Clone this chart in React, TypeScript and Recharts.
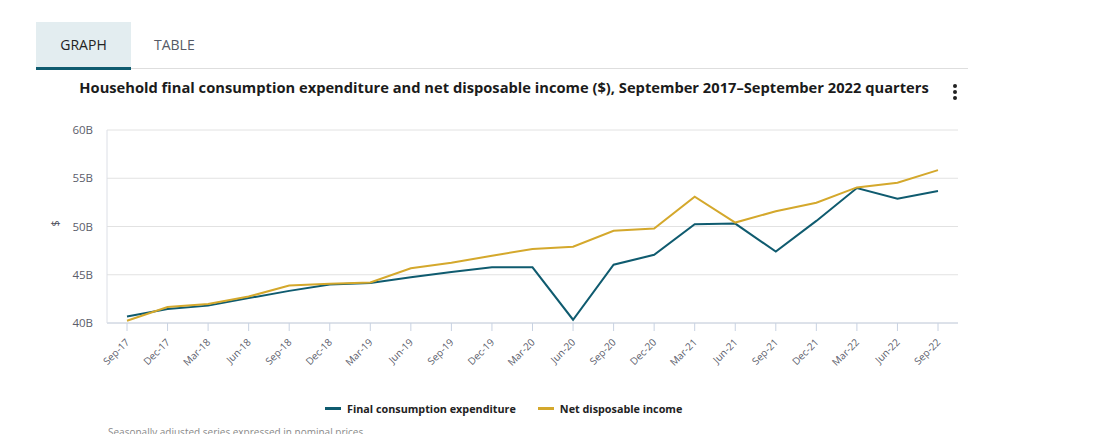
import { CartesianGrid, Line, LineChart, XAxis, YAxis } from "recharts";

const quarters = [
  "Sep-17", "Dec-17", "Mar-18", "Jun-18", "Sep-18", "Dec-18", "Mar-19",
  "Jun-19", "Sep-19", "Dec-19", "Mar-20", "Jun-20", "Sep-20", "Dec-20",
  "Mar-21", "Jun-21", "Sep-21", "Dec-21", "Mar-22", "Jun-22", "Sep-22",
];

// $ billions
const consumption = [
  40.68, 41.44, 41.8, 42.58, 43.33, 44.0, 44.15, 44.74, 45.29, 45.77, 45.77,
  40.34, 46.04, 47.07, 50.24, 50.3, 47.4, 50.58, 53.98, 52.88, 53.67,
];
const disposable = [
  40.24, 41.65, 41.96, 42.74, 43.88, 44.08, 44.19, 45.67, 46.25, 46.97, 47.66,
  47.9, 49.55, 49.79, 53.09, 50.41, 51.58, 52.47, 54.05, 54.54, 55.84,
];
const yTicks = [40, 45, 50, 55, 60];

const BLUE = "#0f5b6f";
const GOLD = "#d4a82c";
const FONT = "'Open Sans', sans-serif";

const data = quarters.map((q, i) => ({
  q,
  fce: consumption[i],
  ndi: disposable[i],
}));

function QuarterTick(props: any) {
  const { x, y, payload } = props;
  return (
    <text
      x={x + 3}
      y={y + 10}
      transform={`rotate(-45, ${x + 3}, ${y + 10})`}
      textAnchor="end"
      fontSize={10}
      fill="#5b5d6b"
      fontFamily={FONT}
    >
      {payload.value}
    </text>
  );
}

export default function App() {
  return (
    <div
      style={{
        position: "relative",
        margin: -8,
        width: 1096,
        height: 442,
        overflow: "hidden",
        background: "#fff",
        fontFamily: FONT,
      }}
    >
      {/* tabs */}
      <div style={{ position: "absolute", left: 36, top: 68, width: 932, height: 1, background: "#dedede" }} />
      <div
        style={{
          position: "absolute",
          left: 36,
          top: 22,
          width: 95,
          height: 45,
          background: "#e3edf0",
          borderBottom: "3px solid #0f5b6f",
        }}
      />
      <div style={{ position: "absolute", left: 36, top: 35, width: 95, textAlign: "center", fontSize: 14, color: "#222" }}>
        GRAPH
      </div>
      <div style={{ position: "absolute", left: 154, top: 35, fontSize: 14, color: "#555a66" }}>TABLE</div>

      {/* title */}
      <div
        style={{
          position: "absolute",
          left: 79,
          top: 77,
          width: 850,
          textAlign: "center",
          fontSize: 14.7,
          fontWeight: 700,
          color: "#1b1b1b",
          whiteSpace: "nowrap",
        }}
      >
        Household final consumption expenditure and net disposable income ($), September 2017–September 2022 quarters
      </div>
      <div style={{ position: "absolute", left: 953, top: 84 }}>
        {[0, 1, 2].map((i) => (
          <div key={i} style={{ width: 4, height: 4, borderRadius: 2, background: "#222", marginBottom: 2 }} />
        ))}
      </div>

      <div style={{ position: "absolute", left: 0, top: 0 }}>
        <LineChart
          width={1096}
          height={442}
          data={data}
          margin={{ top: 130, right: 138, bottom: 59, left: 47 }}
        >
          <CartesianGrid vertical={false} stroke="#e2e2e2" />
          <XAxis
            dataKey="q"
            interval={0}
            height={60}
            padding={{ left: 20, right: 20 }}
            tick={<QuarterTick />}
            tickSize={8}
            tickLine={{ stroke: "#c8d2e2" }}
            axisLine={{ stroke: "#c8d2e2" }}
          />
          <YAxis
            width={60}
            domain={[40, 60]}
            ticks={yTicks}
            tickFormatter={(v) => `${v}B`}
            tickLine={false}
            axisLine={{ stroke: "#dcdfe6" }}
            tick={{ fontSize: 11.5, fill: "#5b5d6b", fontFamily: FONT, dx: -6 }}
            label={{
              value: "$",
              angle: -90,
              position: "insideLeft",
              offset: 8,
              fontSize: 11,
              fill: "#4a4c58",
            }}
          />
          <Line
            dataKey="fce"
            type="linear"
            stroke={BLUE}
            strokeWidth={2}
            dot={false}
            isAnimationActive={false}
          />
          <Line
            dataKey="ndi"
            type="linear"
            stroke={GOLD}
            strokeWidth={2}
            dot={false}
            isAnimationActive={false}
          />
        </LineChart>
      </div>

      {/* legend */}
      <div
        style={{
          position: "absolute",
          left: 325,
          top: 401,
          display: "flex",
          alignItems: "center",
          fontSize: 10.8,
          fontWeight: 700,
          color: "#222",
        }}
      >
        <span style={{ width: 16, height: 3, background: BLUE, marginRight: 6 }} />
        <span>Final consumption expenditure</span>
        <span style={{ width: 16, height: 3, background: GOLD, marginLeft: 22, marginRight: 6 }} />
        <span>Net disposable income</span>
      </div>

      <div style={{ position: "absolute", left: 108, top: 425, fontSize: 10, lineHeight: "14px", color: "#8a8a8a" }}>
        Seasonally adjusted series expressed in nominal prices.
      </div>
    </div>
  );
}
